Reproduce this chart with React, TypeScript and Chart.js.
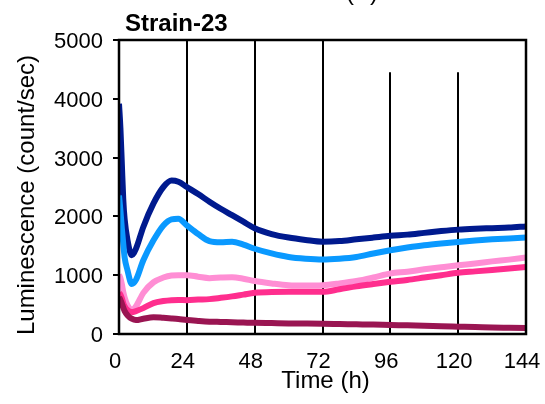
import React, { useEffect, useRef } from "react";
import { Chart, registerables } from "chart.js";

Chart.register(...registerables);

const times = [0, 0.5, 1, 1.5, 2, 3, 4.5, 6, 8.6, 12.2, 15.7, 18.6, 21, 24, 28, 32, 36, 40, 44, 48, 54, 60, 66, 72, 78, 84, 90, 96, 102, 108, 114, 120, 126, 132, 138, 144];

const navy = [3915, 3500, 2900, 2300, 1950, 1600, 1340, 1450, 1820, 2220, 2500, 2610, 2590, 2500, 2380, 2250, 2130, 2020, 1910, 1800, 1700, 1640, 1600, 1570, 1580, 1610, 1640, 1670, 1690, 1720, 1750, 1775, 1790, 1800, 1810, 1830];
const lightBlue = [2356, 2100, 1800, 1540, 1300, 1085, 850, 920, 1254, 1593, 1847, 1950, 1960, 1847, 1700, 1580, 1560, 1570, 1520, 1450, 1370, 1310, 1280, 1266, 1280, 1310, 1370, 1424, 1470, 1510, 1540, 1565, 1590, 1610, 1625, 1640];
const lightPink = [1010, 950, 850, 717, 620, 491, 410, 470, 700, 880, 960, 995, 1000, 1000, 975, 950, 960, 966, 940, 900, 860, 830, 825, 830, 860, 900, 960, 1028, 1060, 1100, 1135, 1169, 1200, 1235, 1265, 1300];
const hotPink = [700, 670, 610, 525, 470, 407, 373, 390, 440, 525, 560, 575, 578, 576, 585, 593, 615, 640, 670, 700, 715, 717, 717, 717, 760, 810, 850, 887, 920, 960, 1000, 1040, 1065, 1090, 1115, 1141];
const maroon = [630, 580, 520, 450, 390, 320, 260, 237, 260, 285, 275, 265, 255, 237, 222, 210, 205, 200, 195, 190, 185, 180, 178, 175, 170, 165, 160, 153, 147, 140, 132, 125, 118, 110, 105, 100];

const seriesList = [
  { name: "maroon", values: maroon, color: "#9a1552" },
  { name: "hotPink", values: hotPink, color: "#ff2e8e" },
  { name: "lightPink", values: lightPink, color: "#ff8ed4" },
  { name: "lightBlue", values: lightBlue, color: "#0a99ff" },
  { name: "navy", values: navy, color: "#001a8e" },
];

const xTicks = [0, 24, 48, 72, 96, 120, 144];
const yTicks = [0, 1000, 2000, 3000, 4000, 5000];
const vlineTimes = [24, 48, 72, 96, 120];
const vlineTops = [5000, 5000, 5000, 4450, 4450];

const chartTitle = "Strain-23";
const yTitle = "Luminescence (count/sec)";
const xTitle = "Time (h)";
const topCutText = "(A)";
const FONT = "'Liberation Sans', Arial, Helvetica, sans-serif";

const decorPlugin = {
  id: "decor",
  beforeDatasetsDraw(chart: any) {
    const ctx = chart.ctx;
    const xs = chart.scales.x;
    const ys = chart.scales.y;
    const bottom = chart.chartArea.bottom;
    ctx.save();
    ctx.strokeStyle = "#000";
    ctx.lineWidth = 2;
    vlineTimes.forEach((t, i) => {
      const px = Math.round(xs.getPixelForValue(t));
      ctx.beginPath();
      ctx.moveTo(px, ys.getPixelForValue(vlineTops[i]));
      ctx.lineTo(px, bottom);
      ctx.stroke();
    });
    ctx.restore();
  },
  afterDatasetsDraw(chart: any) {
    const ctx = chart.ctx;
    const { left, right, top, bottom } = chart.chartArea;
    ctx.save();
    ctx.strokeStyle = "#000";
    ctx.lineWidth = 2.5;
    ctx.strokeRect(left, top, right - left, bottom - top);
    ctx.fillStyle = "#000";
    ctx.font = `bold 24px ${FONT}`;
    ctx.textBaseline = "alphabetic";
    ctx.textAlign = "left";
    ctx.fillText(chartTitle, 125, 31);
    ctx.font = `24px ${FONT}`;
    ctx.fillText(topCutText, 346, 0);
    ctx.textAlign = "center";
    ctx.textBaseline = "middle";
    ctx.fillText(xTitle, (left + right) / 2 + 3, 381);
    ctx.translate(27, 195);
    ctx.rotate(-Math.PI / 2);
    ctx.fillText(yTitle, 0, 0);
    ctx.restore();
  },
};

export default function App() {
  const ref = useRef<HTMLCanvasElement>(null);
  useEffect(() => {
    if (!ref.current) return;
    const chart = new Chart(ref.current, {
      type: "line",
      data: {
        datasets: seriesList.map((s) => ({
          label: s.name,
          data: times.map((t, i) => ({ x: t, y: s.values[i] })),
          borderColor: s.color,
          backgroundColor: s.color,
          borderWidth: 6,
          pointRadius: 0,
          fill: false,
          cubicInterpolationMode: "monotone" as const,
        })),
      },
      options: {
        animation: false,
        responsive: false,
        maintainAspectRatio: false,
        layout: { padding: { left: 0, top: 40, right: 19, bottom: 0 } },
        plugins: { legend: { display: false }, tooltip: { enabled: false }, title: { display: false } },
        scales: {
          x: {
            type: "linear",
            min: 0,
            max: 144,
            afterBuildTicks: (scale: any) => {
              scale.ticks = xTicks.map((v) => ({ value: v }));
            },
            afterFit: (scale: any) => {
              scale.height = 70;
              scale.paddingLeft = 0;
              scale.paddingRight = 0;
            },
            grid: { display: false },
            border: { display: false },
            ticks: { color: "#000", font: { family: FONT, size: 22 }, padding: 7, labelOffset: -4, maxRotation: 0, callback: (v: any) => String(v) },
            title: { display: false },
          },
          y: {
            type: "linear",
            min: 0,
            max: 5000,
            afterBuildTicks: (scale: any) => {
              scale.ticks = yTicks.map((v) => ({ value: v }));
            },
            afterFit: (scale: any) => {
              scale.width = 119;
              scale.paddingTop = 0;
              scale.paddingBottom = 0;
            },
            grid: { display: true, drawOnChartArea: false, drawTicks: true, tickLength: 6, color: "#000", lineWidth: 2 },
            border: { display: false },
            ticks: { color: "#000", font: { family: FONT, size: 22 }, padding: 10, labelOffset: 2, callback: (v: any) => String(v) },
            title: { display: false },
          },
        },
      },
      plugins: [decorPlugin],
    });
    return () => chart.destroy();
  }, []);
  return (
    <div style={{ position: "fixed", left: 0, top: 0, width: 545, height: 404, background: "#fff" }}>
      <canvas ref={ref} width={545} height={404} style={{ width: 545, height: 404 }} />
    </div>
  );
}
